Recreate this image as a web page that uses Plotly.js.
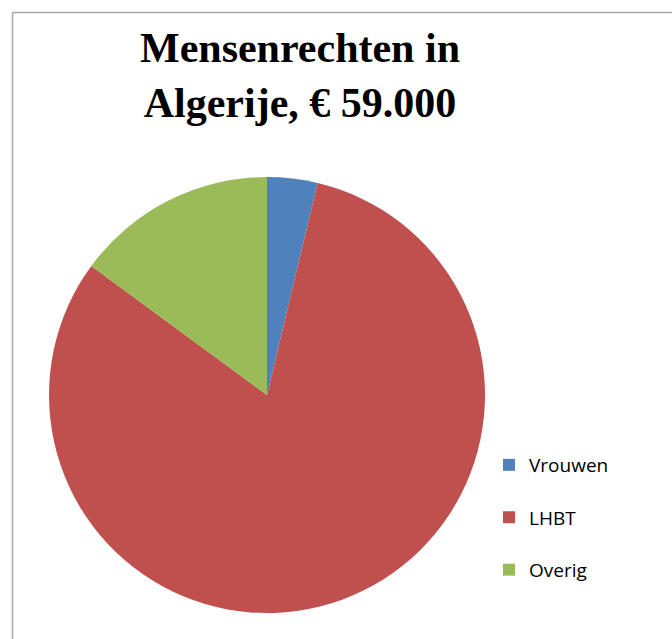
<!DOCTYPE html>
<html>
<head>
<meta charset="utf-8">
<script src="https://cdn.plot.ly/plotly-3.0.1.min.js"></script>
<style>html,body{margin:0;padding:0;background:#fff;}#chart{width:672px;height:639px;}</style>
</head>
<body>
<div id="chart"></div>
<script>
const categories = ["Vrouwen", "LHBT", "Overig"];
const amounts = [2200, 48000, 8800];
const colors = ["#4F81BD", "#C0504D", "#9BBB59"];
const titleText = "Mensenrechten in<br>Algerije, € 59.000";

const W = 672, H = 639;
const cx = 267, cy = 395, r = 218;

// legend entries get a blank second line to widen the gap between them
const legendLabels = categories.map(c => c + "<br> ");

const trace = {
  type: "pie",
  labels: legendLabels,
  values: amounts,
  marker: { colors: colors, line: { width: 0 } },
  sort: false,
  direction: "clockwise",
  rotation: 0,
  textinfo: "none",
  hoverinfo: "none",
  domain: {
    x: [(cx - r) / W, (cx + r) / W],
    y: [(H - cy - r) / H, (H - cy + r) / H]
  }
};

const layout = {
  width: W, height: H,
  margin: { l: 0, r: 0, t: 0, b: 0 },
  paper_bgcolor: "#ffffff",
  title: {
    text: titleText,
    font: { family: "Liberation Serif, serif", size: 42, color: "#000000", weight: "bold" },
    x: 300 / W, xanchor: "center", xref: "paper",
    y: 1 - 62 / H, yanchor: "top", yref: "container"
  },
  showlegend: true,
  legend: {
    x: 489 / W, xanchor: "left",
    y: 1 - 530 / H, yanchor: "middle",
    valign: "top",
    font: { family: "Open Sans, Liberation Sans, sans-serif", size: 19, color: "#000000" },
    bgcolor: "rgba(0,0,0,0)",
    itemclick: false
  },
  shapes: [
    { type: "line", xref: "paper", yref: "paper", x0: 12.5 / W, x1: 1.05, y0: 1 - 12.5 / H, y1: 1 - 12.5 / H, line: { color: "#a6a6a6", width: 1.5 } },
    { type: "line", xref: "paper", yref: "paper", x0: 12.5 / W, x1: 12.5 / W, y0: 1 - 12.5 / H, y1: -0.05, line: { color: "#a6a6a6", width: 1.5 } }
  ]
};

Plotly.newPlot("chart", [trace], layout, { displayModeBar: false, staticPlot: true });
</script>
</body>
</html>
